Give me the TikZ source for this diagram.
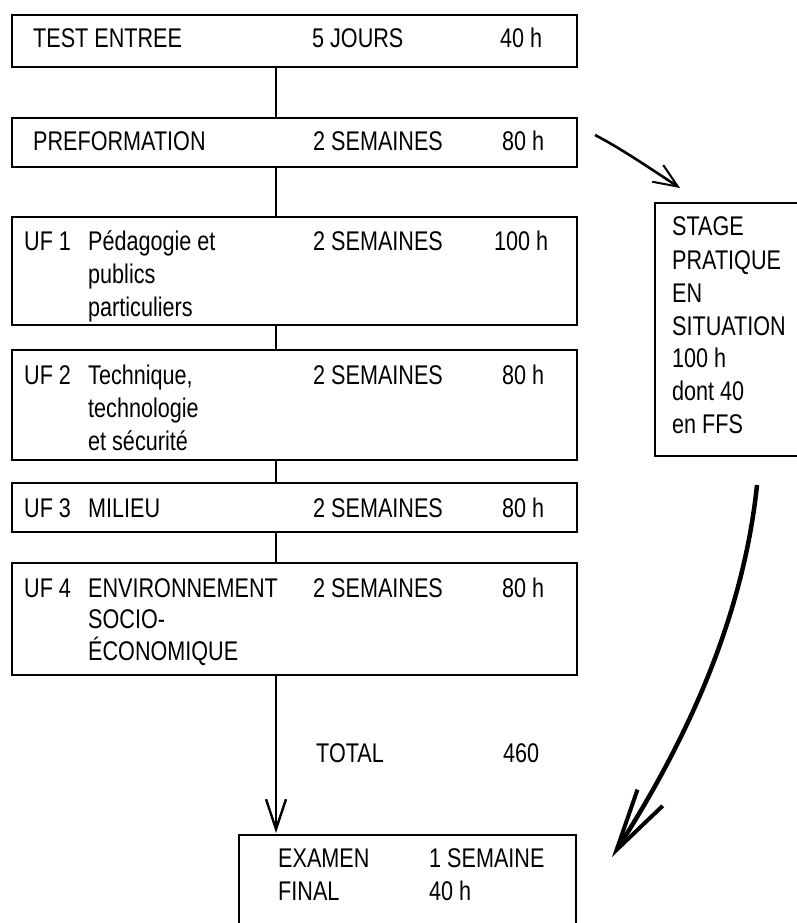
\documentclass[tikz,border=0pt]{standalone}
\usepackage{fontspec}
\setmainfont{Liberation Sans}
\newfontfamily\condfont[FakeStretch=0.8]{Liberation Sans}
\usetikzlibrary{arrows.meta}
\begin{document}
\begin{tikzpicture}[x=1pt,y=-1pt,
  box/.style={draw,line width=1.8pt,rectangle,anchor=north west,inner sep=0pt,outer sep=0pt},
  txt/.style={anchor=base west,inner sep=0pt,font=\condfont\fontsize{27}{30}\selectfont},
  link/.style={line width=2.2pt},
  flow/.style={line width=2.4pt,-{Straight Barb[length=30pt,width=20pt,line width=2.4pt]}},
  curv/.style={line width=2.6pt,-{Straight Barb[length=24pt,width=20pt,line width=2pt]}},
  big/.style={line width=4.5pt,-{Straight Barb[length=62pt,width=30pt,line width=4pt]}}]
\useasboundingbox (0,0) rectangle (797,923);
% boxes
\node[box,minimum width=565pt,minimum height=52pt] (b1) at (12,15) {};
\node[box,minimum width=565pt,minimum height=49pt] (b2) at (12,118) {};
\node[box,minimum width=565pt,minimum height=108pt] (b3) at (12,217) {};
\node[box,minimum width=565pt,minimum height=110pt] (b4) at (12,350) {};
\node[box,minimum width=565pt,minimum height=49pt] (b5) at (12,483) {};
\node[box,minimum width=565pt,minimum height=112pt] (b6) at (12,563) {};
\node[box,minimum width=337pt,minimum height=110pt] (exam) at (239,835) {};
\node[box,minimum width=165pt,minimum height=253pt] (stage) at (655,203) {};
% texts
\node[txt] (t1a) at (33,48) {TEST ENTREE};
\node[txt] (t1b) at (312,48) {5 JOURS};
\node[txt] (t1c) at (500,48) {40 h};
\node[txt] (t2a) at (33,150) {PREFORMATION};
\node[txt] (t2b) at (313,150) {2 SEMAINES};
\node[txt] (t2c) at (502,150) {80 h};
\node[txt] (t3a) at (24,250) {UF 1};
\node[txt] (t3b) at (88,250) {Pédagogie et};
\node[txt] (t3c) at (88,283) {publics};
\node[txt] (t3d) at (88,316) {particuliers};
\node[txt] (t3e) at (313,250) {2 SEMAINES};
\node[txt] (t3f) at (494,250) {100 h};
\node[txt] (t4a) at (24,384) {UF 2};
\node[txt] (t4b) at (88,384) {Technique,};
\node[txt] (t4c) at (88,417) {technologie};
\node[txt] (t4d) at (88,450) {et sécurité};
\node[txt] (t4e) at (313,384) {2 SEMAINES};
\node[txt] (t4f) at (502,384) {80 h};
\node[txt] (t5a) at (24,517) {UF 3};
\node[txt] (t5b) at (88,517) {MILIEU};
\node[txt] (t5e) at (313,517) {2 SEMAINES};
\node[txt] (t5f) at (502,517) {80 h};
\node[txt] (t6a) at (24,597) {UF 4};
\node[txt] (t6b) at (88,597) {ENVIRONNEMENT};
\node[txt] (t6c) at (88,628) {SOCIO-};
\node[txt] (t6d) at (88,660) {ÉCONOMIQUE};
\node[txt] (t6e) at (313,597) {2 SEMAINES};
\node[txt] (t6f) at (502,597) {80 h};
\node[txt] (tot) at (316,762) {TOTAL};
\node[txt] (totv) at (503,762) {460};
\node[txt] (e1) at (278,867) {EXAMEN};
\node[txt] (e2) at (429,867) {1 SEMAINE};
\node[txt] (e3) at (278,900) {FINAL};
\node[txt] (e4) at (429,900) {40 h};
\node[txt] (s1) at (672,235) {STAGE};
\node[txt] (s2) at (672,269) {PRATIQUE};
\node[txt] (s3) at (672,302) {EN};
\node[txt] (s4) at (672,335) {SITUATION};
\node[txt] (s5) at (672,367) {100 h};
\node[txt] (s6) at (672,400) {dont 40};
\node[txt] (s7) at (672,433) {en FFS};
% connectors
\draw[link] ([xshift=264pt]b1.south west) -- ([xshift=264pt]b2.north west);
\draw[link] ([xshift=264pt]b2.south west) -- ([xshift=264pt]b3.north west);
\draw[link] ([xshift=264pt]b3.south west) -- ([xshift=264pt]b4.north west);
\draw[link] ([xshift=264pt]b4.south west) -- ([xshift=264pt]b5.north west);
\draw[link] ([xshift=264pt]b5.south west) -- ([xshift=264pt]b6.north west);
\draw[flow] ([xshift=264pt]b6.south west) -- ([xshift=37pt,yshift=2pt]exam.north west);
\coordinate (a1s) at (595,135);
\draw[curv] (a1s) .. controls (620,148) and (645,165) .. ([xshift=25pt,yshift=15pt]stage.north west);
\coordinate (a2s) at (757,485);
\draw[big] (a2s) .. controls (745,600) and (700,720) .. ([xshift=36pt,yshift=-22pt]exam.north east);
\end{tikzpicture}
\end{document}
